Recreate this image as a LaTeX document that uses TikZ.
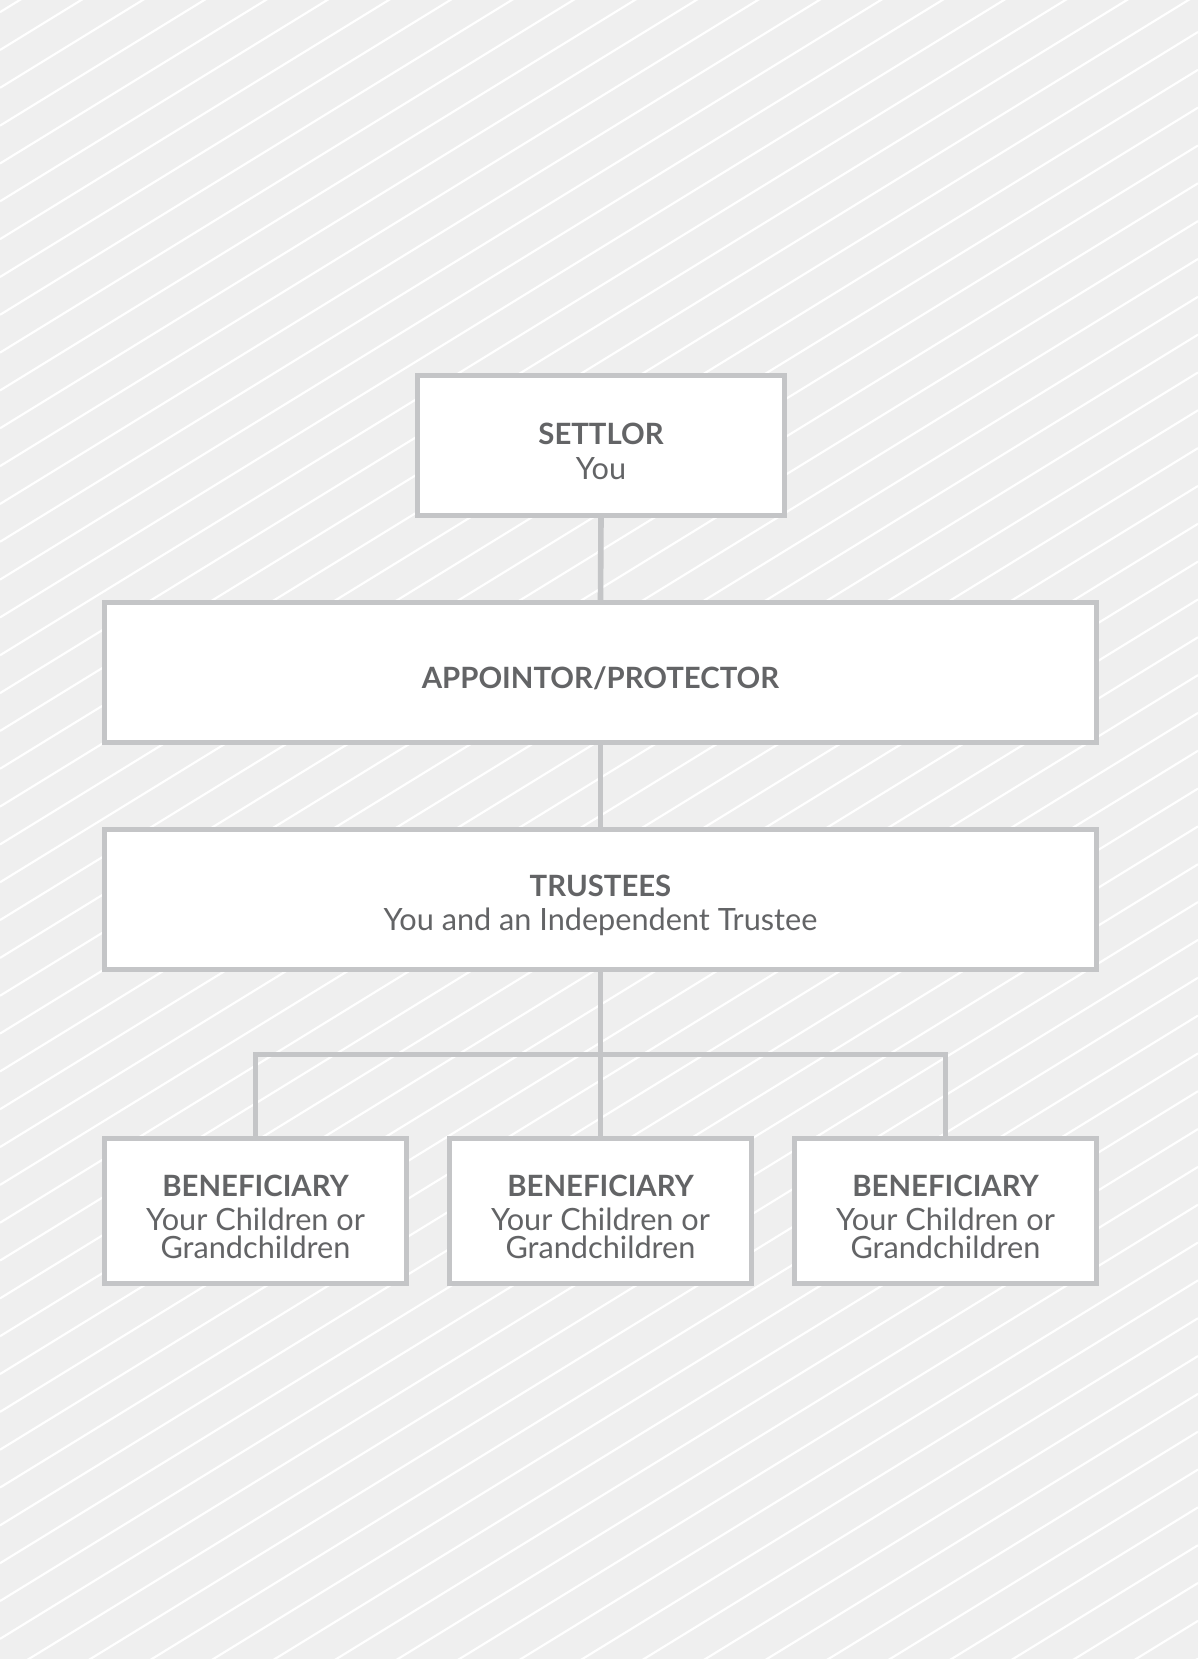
\documentclass[tikz,border=0pt]{standalone}
\usepackage{tikz}
\usepackage{fontspec}
\setmainfont{Lato}
\usetikzlibrary{calc}

\tikzset{
  box/.style={draw={rgb, 255:red, 196; green, 197; blue, 199}, line width=3.75pt, fill=white,
    align=center, text={rgb, 255:red, 99; green, 100; blue, 102}, inner sep=0pt,
    font=\fontsize{23}{21}\selectfont},
  conn/.style={draw={rgb, 255:red, 196; green, 197; blue, 199}, line width=4.2pt},
  hatch/.style={draw=white, line width=1.6pt}
}
\newcommand{\boxtitle}[1]{{\bfseries\fontsize{22}{21}\selectfont\rule{0pt}{25pt}#1}}

\begin{document}
\begin{tikzpicture}[x=0.75pt,y=0.75pt,yscale=-1,xscale=1]
\useasboundingbox (0,0) rectangle (1198,1659);
%Background
\fill[color={rgb, 255:red, 239; green, 239; blue, 239}] (0,0) rectangle (1198,1659);
\begin{scope}
\clip (0,0) rectangle (1198,1659);
\foreach \k in {-1,...,64}
  \draw[hatch] (0,{50+37.83*\k}) -- (1198,{50+37.83*\k-736.8});
\end{scope}

%Boxes
\node[box, minimum width=275.25pt, minimum height=105pt] (settlor) at (601,445.5)
  {\boxtitle{SETTLOR}\\[5pt]You};
\node[box, minimum width=744pt, minimum height=105pt] (appointor) at (600.5,672.5)
  {\boxtitle{APPOINTOR/PROTECTOR}};
\node[box, minimum width=744pt, minimum height=105pt] (trustees) at (600.5,899.5)
  {\boxtitle{TRUSTEES}\\[5pt]You and an Independent Trustee};
\node[box, minimum width=226.5pt, minimum height=108.75pt] (benleft) at (255.5,1211)
  {\boxtitle{BENEFICIARY}\\[5pt]Your Children or\\Grandchildren};
\node[box, minimum width=226.5pt, minimum height=108.75pt] (benmid) at (600.5,1211)
  {\boxtitle{BENEFICIARY}\\[5pt]Your Children or\\Grandchildren};
\node[box, minimum width=226.5pt, minimum height=108.75pt] (benright) at (945.5,1211)
  {\boxtitle{BENEFICIARY}\\[5pt]Your Children or\\Grandchildren};

%Connectors
\coordinate (bar) at (600.5,1054.5);
\draw[conn] (settlor.south) -- (appointor.north);
\draw[conn] (appointor.south) -- (trustees.north);
\draw[conn] (trustees.south) -- (benmid.north);
\draw[conn] (benleft.north) |- (bar) -| (benright.north);
\end{tikzpicture}
\end{document}
